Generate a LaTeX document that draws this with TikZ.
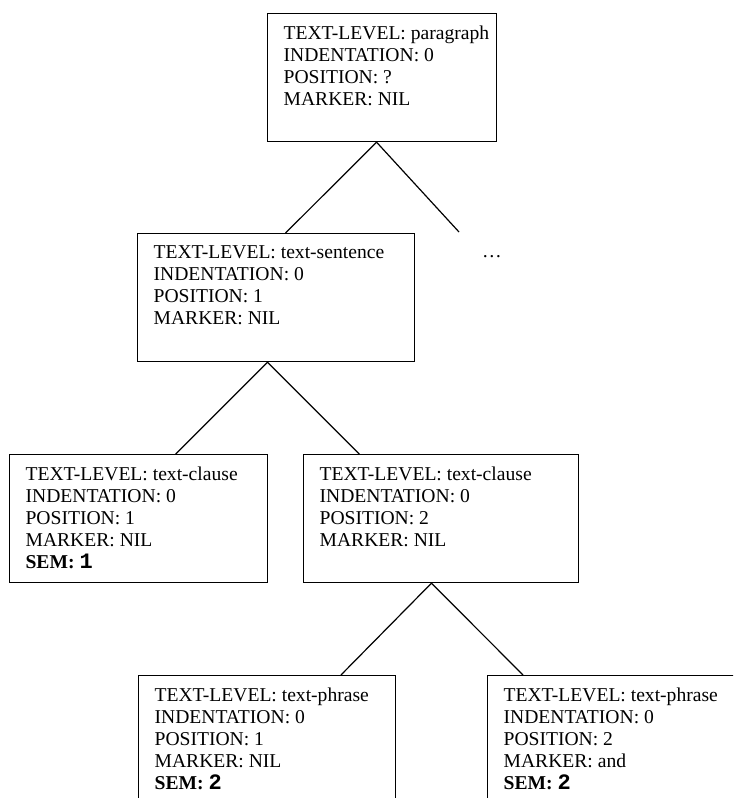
\documentclass[tikz,border=0pt]{standalone}
\usepackage{fontspec}
\setmainfont{Liberation Serif}
\newfontfamily\semfont{Liberation Mono}
\usetikzlibrary{calc}

\tikzset{
  fsbox/.style={draw, line width=0.9pt, anchor=north west, inner xsep=0pt, inner ysep=9pt,
    font=\fontsize{14.7}{16.6}\selectfont},
  link/.style={line width=0.9pt}
}
\newcommand{\fsrows}[2]{\parbox[t][78pt][t]{#1}{\raggedright\leftskip=12pt\relax #2}}
\newcommand{\semval}[1]{\textbf{SEM: {\semfont\bfseries\fontsize{16.5}{16.6}\selectfont #1}}}

\begin{document}
\begin{tikzpicture}[x=0.75pt, y=-0.75pt]
  \useasboundingbox (0,0) rectangle (733,798);
  \clip (0,0) rectangle (733,798);

  % feature boxes
  \node[fsbox] (para) at (267,13) {\fsrows{171.75pt}{TEXT-LEVEL: paragraph\\INDENTATION: 0\\POSITION: ?\\MARKER: NIL}};
  \node[fsbox] (sent) at (137,233) {\fsrows{207.75pt}{TEXT-LEVEL: text-sentence\\INDENTATION: 0\\POSITION: 1\\MARKER: NIL}};
  \node[fsbox] (clauseA) at (9,454) {\fsrows{193.5pt}{TEXT-LEVEL: text-clause\\INDENTATION: 0\\POSITION: 1\\MARKER: NIL\\\semval{1}}};
  \node[fsbox] (clauseB) at (303,454) {\fsrows{206.25pt}{TEXT-LEVEL: text-clause\\INDENTATION: 0\\POSITION: 2\\MARKER: NIL}};
  \node[fsbox] (phraseA) at (138,675) {\fsrows{192.75pt}{TEXT-LEVEL: text-phrase\\INDENTATION: 0\\POSITION: 1\\MARKER: NIL\\\semval{2}}};
  \node[fsbox] (phraseB) at (487,675) {\fsrows{195pt}{TEXT-LEVEL: text-phrase\\INDENTATION: 0\\POSITION: 2\\MARKER: and\\\semval{2}}};

  % elided sibling
  \node[font=\fontsize{14.7}{16.6}\selectfont] (more) at (492,257) {…};
  \coordinate (moreEnd) at (459,232);

  % branch points
  \coordinate (paraJ) at ($(para.south west)!0.476!(para.south east)$);
  \coordinate (sentJ) at ($(sent.south west)!0.469!(sent.south east)$);
  \coordinate (clauseJ) at ($(clauseB.south west)!0.465!(clauseB.south east)$);

  % tree edges
  \draw[link] (paraJ) -- ($(sent.north west)!0.534!(sent.north east)$);
  \draw[link] (paraJ) -- (moreEnd);
  \draw[link] (sentJ) -- ($(clauseA.north west)!0.643!(clauseA.north east)$);
  \draw[link] (sentJ) -- ($(clauseB.north west)!0.204!(clauseB.north east)$);
  \draw[link] (clauseJ) -- ($(phraseA.north west)!0.786!(phraseA.north east)$);
  \draw[link] (clauseJ) -- ($(phraseB.north west)!0.138!(phraseB.north east)$);
\end{tikzpicture}
\end{document}
